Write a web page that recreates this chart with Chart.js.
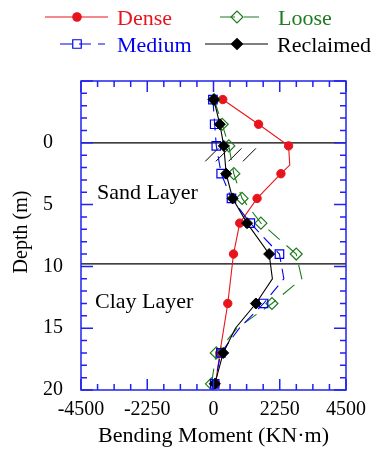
<!DOCTYPE html>
<html>
<head>
<meta charset="utf-8">
<script src="https://cdn.jsdelivr.net/npm/chart.js@4.4.0/dist/chart.umd.min.js"></script>
<style>
html, body { margin: 0; padding: 0; background: #fff; }
#wrap { width: 374px; height: 454px; }
</style>
</head>
<body>
<div id="wrap"><canvas id="momentChart"></canvas></div>
<script>
// depth (m) of every vertex, moments (KN·m) per series; null = no vertex there
var depth = [-3.5, -1.5, 0.25, 1.8, 2.5, 4.5, 6.5, 9, 11, 13, 15, 17, 19.5];
var dense = [315, 1530, 2550, 2590, 2290, 1480, 890, 680, null, 485, null, 215, 70];
var medium = [-20, 40, 95, null, 260, 610, 1250, 2240, 2390, 1700, 880, 250, 40];
var loose = [20, 295, 520, null, 690, 970, 1610, 2810, 3000, 1985, 800, 95, -70];
var reclaimed = [10, 215, 350, null, 430, 650, 1140, 1890, 2000, 1440, 745, 330, 45];
var bendDepths = [1.8, 11, 15];   // vertices drawn without a marker
var layerDepths = [0, 9.8];
var xTicks = [-4500, -2250, 0, 2250, 4500];
var yTicks = [0, 5, 10, 15, 20];

var RED = "#e8141c", GREEN = "#1e7b1e", BLUE = "#0000ee";

function toPoints(vals) {
    var pts = [];
    for (var i = 0; i < depth.length; i++) {
        if (vals[i] !== null) pts.push({ x: vals[i], y: depth[i] });
    }
    return pts;
}
function markerSize(r) {
    return function(c) {
        var p = c.raw;
        return p && bendDepths.indexOf(p.y) >= 0 ? 0 : r;
    };
}

var framePlugin = {
    id: "frame",
    beforeDatasetsDraw: function(chart) {
        var ctx = chart.ctx, a = chart.chartArea;
        var xs = chart.scales.x, ys = chart.scales.y;
        ctx.save();
        // layer boundaries
        ctx.strokeStyle = "#000";
        ctx.lineWidth = 1.3;
        layerDepths.forEach(function(d) {
            var py = ys.getPixelForValue(d);
            ctx.beginPath(); ctx.moveTo(a.left, py); ctx.lineTo(a.right, py); ctx.stroke();
        });
        // ground hatch below the surface line
        ctx.lineWidth = 1;
        [-280, 80, 510, 1000].forEach(function(x0) {
            ctx.beginPath();
            ctx.moveTo(xs.getPixelForValue(x0), ys.getPixelForValue(1.5));
            ctx.lineTo(xs.getPixelForValue(x0 + 440), ys.getPixelForValue(0.45));
            ctx.stroke();
        });
        ctx.fillStyle = "#000";
        ctx.font = "22px 'Liberation Serif'";
        ctx.textBaseline = "alphabetic";
        ctx.textAlign = "left";
        ctx.fillText("Sand Layer", xs.getPixelForValue(-3956), ys.getPixelForValue(4.55));
        ctx.fillText("Clay Layer", xs.getPixelForValue(-4024), ys.getPixelForValue(13.4));
        ctx.restore();
    },
    afterDraw: function(chart) {
        var ctx = chart.ctx, a = chart.chartArea;
        var xs = chart.scales.x, ys = chart.scales.y;
        ctx.save();
        ctx.strokeStyle = "#2222ee";
        ctx.lineWidth = 1.5;
        ctx.strokeRect(a.left, a.top, a.right - a.left, a.bottom - a.top);
        ctx.beginPath();
        for (var v = -4500; v <= 4500; v += 562.5) {
            var px = xs.getPixelForValue(v);
            var len = (v % 2250 === 0) ? 11 : 6;
            ctx.moveTo(px, a.bottom); ctx.lineTo(px, a.bottom - len);
            ctx.moveTo(px, a.top); ctx.lineTo(px, a.top + len);
        }
        for (var d = -5; d <= 20; d += 1) {
            var py = ys.getPixelForValue(d);
            var l = (d % 5 === 0) ? 12 : 6;
            ctx.moveTo(a.left, py); ctx.lineTo(a.left + l, py);
            ctx.moveTo(a.right, py); ctx.lineTo(a.right - l, py);
        }
        ctx.stroke();

        // y axis title
        ctx.fillStyle = "#000";
        ctx.font = "20px 'Liberation Serif'";
        ctx.textAlign = "center";
        ctx.textBaseline = "middle";
        ctx.translate(22, 232);
        ctx.rotate(-Math.PI / 2);
        ctx.fillText("Depth (m)", 0, 0);
        ctx.restore();

        // legend
        var items = [
            { ds: 3, x0: 45, x1: 108, mx: 77, tx: 117, y: 17 },
            { ds: 2, x0: 220, x1: 266, mx: 237, tx: 278, y: 17 },
            { ds: 1, x0: 60, x1: 105, mx: 77, tx: 117, y: 44 },
            { ds: 0, x0: 205, x1: 268, mx: 237, tx: 277, y: 44 }
        ];
        items.forEach(function(it) {
            var ds = chart.data.datasets[it.ds];
            ctx.save();
            ctx.strokeStyle = ds.borderColor;
            ctx.lineWidth = 1.2;
            ctx.setLineDash(ds.borderDash || []);
            ctx.beginPath(); ctx.moveTo(it.x0, it.y); ctx.lineTo(it.x1, it.y); ctx.stroke();
            ctx.setLineDash([]);
            ctx.fillStyle = ds.pointBackgroundColor;
            ctx.lineWidth = 1.2;
            Chart.helpers.drawPoint(ctx, { pointStyle: ds.pointStyle, radius: ds.legendRadius, rotation: 0, borderWidth: 1.2 }, it.mx, it.y);
            ctx.fillStyle = ds.borderColor;
            ctx.font = "22px 'Liberation Serif'";
            ctx.textAlign = "left";
            ctx.textBaseline = "alphabetic";
            ctx.fillText(ds.label, it.tx, it.y + 7.5);
            ctx.restore();
        });
    }
};

Chart.defaults.font.family = "'Liberation Serif', 'Times New Roman', serif";
Chart.defaults.color = "#000";

new Chart(document.getElementById("momentChart"), {
    type: "scatter",
    data: {
        datasets: [{
            label: "Reclaimed",
            data: toPoints(reclaimed),
            showLine: true,
            borderColor: "#000",
            borderWidth: 1.1,
            pointStyle: "rectRot",
            pointRadius: markerSize(5.5),
            legendRadius: 5.5,
            pointBackgroundColor: "#000",
            pointBorderColor: "#000",
            pointBorderWidth: 1
        }, {
            label: "Medium",
            data: toPoints(medium),
            showLine: true,
            borderColor: BLUE,
            borderWidth: 1.1,
            borderDash: [12, 7],
            pointStyle: "rect",
            pointRadius: markerSize(6),
            legendRadius: 6,
            pointBackgroundColor: "rgba(0,0,0,0)",
            pointBorderColor: BLUE,
            pointBorderWidth: 1.2
        }, {
            label: "Loose",
            data: toPoints(loose),
            showLine: true,
            borderColor: GREEN,
            borderWidth: 1.1,
            borderDash: [15, 9],
            pointStyle: "rectRot",
            pointRadius: markerSize(6),
            legendRadius: 6,
            pointBackgroundColor: "rgba(0,0,0,0)",
            pointBorderColor: GREEN,
            pointBorderWidth: 1.2
        }, {
            label: "Dense",
            data: toPoints(dense),
            showLine: true,
            borderColor: RED,
            borderWidth: 1.1,
            pointStyle: "circle",
            pointRadius: markerSize(4.2),
            legendRadius: 4.2,
            pointBackgroundColor: RED,
            pointBorderColor: RED,
            pointBorderWidth: 1
        }]
    },
    options: {
        responsive: true,
        maintainAspectRatio: false,
        animation: false,
        layout: { padding: { left: 43, top: 81, right: 28, bottom: 0 } },
        plugins: { legend: { display: false }, tooltip: { enabled: false } },
        scales: {
            x: {
                type: "linear",
                min: -4500,
                max: 4500,
                afterBuildTicks: function(s) { s.ticks = xTicks.map(function(v) { return { value: v }; }); },
                grid: { display: false, drawTicks: false },
                border: { display: false },
                ticks: {
                    font: { size: 20 }, padding: 8, maxRotation: 0, autoSkip: false,
                    callback: function(v) { return String(v); }
                },
                title: { display: true, text: "Bending Moment (KN·m)", font: { size: 22 }, padding: { top: 0, bottom: 5 } },
                afterFit: function(s) { s.height = 64; }
            },
            y: {
                type: "linear",
                reverse: true,
                min: -5,
                max: 20,
                afterBuildTicks: function(s) { s.ticks = yTicks.map(function(v) { return { value: v }; }); },
                grid: { display: false, drawTicks: false },
                border: { display: false },
                ticks: {
                    font: { size: 20 }, crossAlign: "far", autoSkip: false,
                    callback: function(v) { return String(v); }
                },
                afterFit: function(s) { s.width = 38; }
            }
        }
    },
    plugins: [framePlugin]
});
</script>
</body>
</html>
